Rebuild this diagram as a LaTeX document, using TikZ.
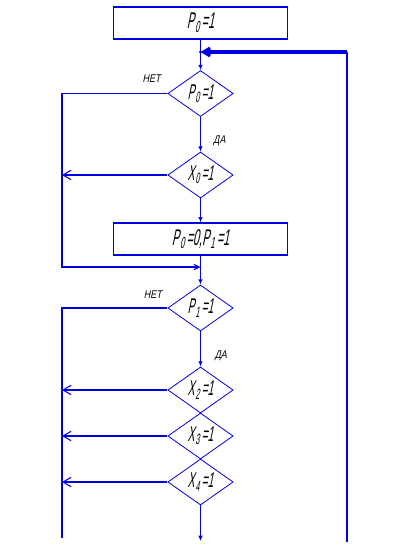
\documentclass[tikz,border=0pt]{standalone}
\usepackage{fontspec}
\setmainfont{Liberation Sans}
\newfontfamily\gostfont[FakeStretch=0.48,FakeSlant=0.2]{Liberation Sans}
\newfontfamily\gostsmall[FakeStretch=0.8,FakeSlant=0.2]{Liberation Sans}
\usetikzlibrary{shapes.geometric, arrows.meta, positioning, calc}
\definecolor{lineblue}{RGB}{0,0,225}
\newcommand{\idx}[1]{\kern0.8pt\textsubscript{#1}\kern1.2pt}

\begin{document}
\begin{tikzpicture}[x=0.75pt, y=-0.75pt,
    flow/.style={lineblue, line width=0.8pt},
    downtip/.style={-{Latex[length=4pt,width=3.5pt]}},
    backtip/.style={-{Straight Barb[length=6pt,width=7pt]}},
    smalltip/.style={-{Straight Barb[length=4pt,width=4pt]}},
    procbox/.style={rectangle, draw=lineblue, line width=0.9pt, inner sep=0pt,
        minimum width=131pt, minimum height=24pt,
        font=\gostfont\fontsize{17}{20}\selectfont},
    testbox/.style={diamond, draw=lineblue, line width=0.6pt, inner sep=0pt,
        shape aspect=1.6, minimum width=49pt, minimum height=34.5pt,
        font=\gostfont\fontsize{16}{19}\selectfont},
    answer/.style={inner sep=0pt, font=\gostsmall\fontsize{8.4}{10}\selectfont}]
    \useasboundingbox[fill=white] (0,0) rectangle (412,553);

    % Blocks
    \node[procbox] (setP0) at (200.5,23) {P\idx{0}=1};
    \node[testbox] (askP0) at (200.5,93.5) {P\idx{0}=1};
    \node[testbox] (askX0) at (200.5,175) {X\idx{0}=1};
    \node[procbox] (setP1) at (200.5,239) {P\idx{0}=0,P\idx{1}=1};
    \node[testbox] (askP1) at (200.5,308) {P\idx{1}=1};
    \node[testbox] (askX2) at (200.5,390) {X\idx{2}=1};
    \node[testbox] (askX3) at (200.5,436) {X\idx{3}=1};
    \node[testbox] (askX4) at (200.5,482) {X\idx{4}=1};

    % Branch labels
    \node[answer, above left=8pt and 5pt of askP0.west] (noP0) {НЕТ};
    \node[answer, above right=4.5pt and 9.5pt of askX0.north] (yesP0) {ДА};
    \node[answer, above left=7pt and 4pt of askP1.west] (noP1) {НЕТ};
    \node[answer, above right=4pt and 10.5pt of askX2.north] (yesP1) {ДА};

    % Free ends
    \coordinate (loopIn) at (200.5,52);
    \coordinate (loopTop) at (347,52);
    \coordinate (loopEnd) at (347,542);
    \coordinate (merge) at (200.5,267);
    \coordinate (leftBus) at (62,0);
    \coordinate (leftEnd) at (62,538);
    \coordinate (exitPt) at (200.5,541);

    % Connectors
    \draw[flow] (setP0) -- (loopIn);
    \draw[flow] (loopEnd) -- (loopTop);
    \draw[flow, line width=2.3pt, -{Straight Barb[length=5pt,width=6pt]}] (loopTop) -- (loopIn);
    \fill[lineblue] (loopIn) circle (1.3pt);
    \draw[flow, downtip] (loopIn) -- (askP0);
    \draw[flow, downtip] (askP0) -- (askX0);
    \draw[flow, smalltip] (askP0.west) -- (askP0.west -| leftBus) |- (merge);
    \draw[flow, backtip] (askX0.west) -- (askX0.west -| leftBus);
    \draw[flow, downtip] (askX0) -- (setP1);
    \draw[flow] (setP1) -- (merge);
    \draw[flow, downtip] (merge) -- (askP1);
    \draw[flow] (askP1.west) -- (askP1.west -| leftBus) -- (leftEnd);
    \draw[flow, downtip] (askP1) -- (askX2);
    \foreach \q in {askX2, askX3, askX4}
        \draw[flow, backtip] (\q.west) -- (\q.west -| leftBus);
    \draw[flow, downtip] (askX4) -- (exitPt);
\end{tikzpicture}
\end{document}
